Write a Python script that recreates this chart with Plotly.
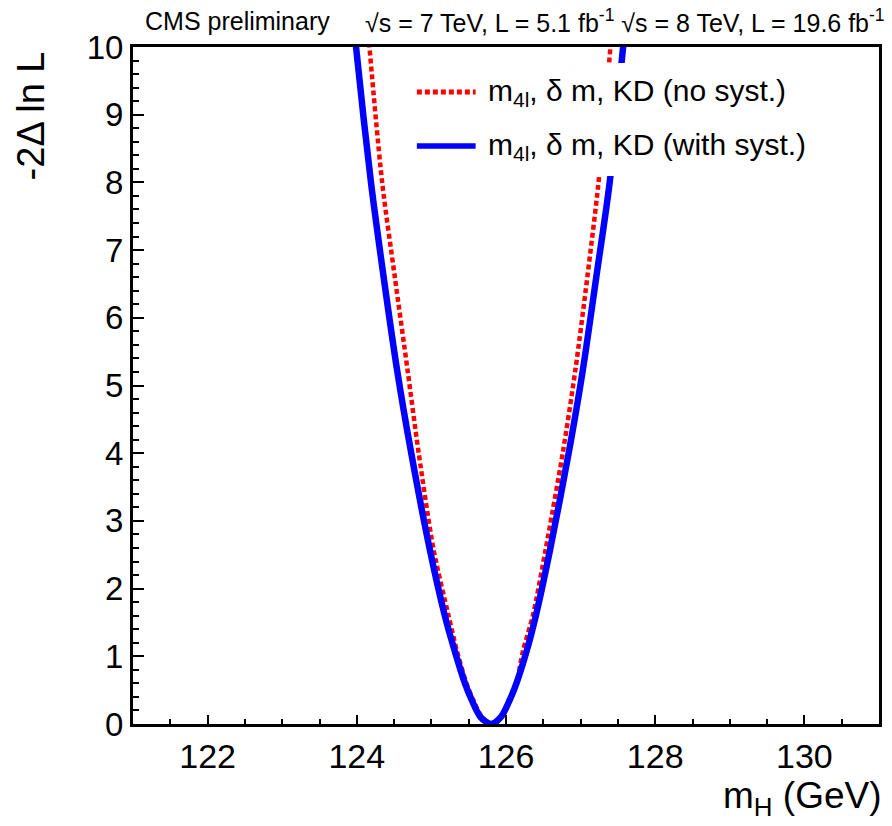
import plotly.graph_objects as go

# ---- data ----
# m4l, delta m, KD (no syst.)  -- red dotted
mass_nosyst = [124.15, 124.17, 124.34, 124.51, 124.68, 124.83, 125.03, 125.23, 125.34,
               125.47, 125.56, 125.68, 125.81, 125.94, 126.06, 126.14, 126.23, 126.36,
               126.53, 126.76, 126.93, 127.09, 127.24, 127.40, 127.42]
nll_nosyst = [10.3, 10.0, 8.0, 6.6, 5.23, 4.0, 2.57, 1.6, 1.09,
              0.6, 0.355, 0.1, 0.0, 0.1, 0.355, 0.6, 1.09, 1.6,
              2.57, 4.0, 5.23, 6.6, 8.0, 10.0, 10.3]

# m4l, delta m, KD (with syst.)  -- blue solid
mass_syst = [123.97, 123.99, 124.19, 124.36, 124.54, 124.73, 124.98, 125.18, 125.31,
             125.45, 125.54, 125.66, 125.80, 125.93, 126.05, 126.14, 126.28, 126.40,
             126.59, 126.84, 127.03, 127.21, 127.39, 127.57, 127.60]
nll_syst = [10.3, 10.0, 8.0, 6.6, 5.23, 4.0, 2.57, 1.6, 1.09,
            0.6, 0.355, 0.1, 0.0, 0.1, 0.355, 0.6, 1.09, 1.6,
            2.57, 4.0, 5.23, 6.6, 8.0, 10.0, 10.3]

series_names = ["m<sub>4l</sub>, δ m, KD (no syst.)",
                "m<sub>4l</sub>, δ m, KD (with syst.)"]
x_range = [121, 131]
y_range = [0, 10]
x_tickvals = [122, 124, 126, 128, 130]
y_tickvals = [0, 1, 2, 3, 4, 5, 6, 7, 8, 9, 10]

FONT = "Liberation Sans, Arial, Helvetica, sans-serif"
RED = "#ff0000"
BLUE = "#0000ff"

fig = go.Figure()
fig.add_trace(go.Scatter(x=mass_nosyst, y=nll_nosyst, mode="lines",
                         line=dict(color=RED, width=4.5, dash="5px,3px", shape="spline", smoothing=0.8),
                         name=series_names[0], showlegend=False))
fig.add_trace(go.Scatter(x=mass_syst, y=nll_syst, mode="lines",
                         line=dict(color=BLUE, width=6.5, shape="spline", smoothing=0.8),
                         name=series_names[1], showlegend=False))

# ---- manual legend (opaque white box like the original) ----
W, H = 892, 826
L_M, R_M, T_M, B_M = 133, 10, 47, 102
pw = W - L_M - R_M
ph = H - T_M - B_M


def px2x(px):
    return x_range[0] + (px - L_M) / pw * (x_range[1] - x_range[0])


def py2y(py):
    return y_range[1] - (py - T_M) / ph * (y_range[1] - y_range[0])


shapes = [
    dict(type="rect", xref="x", yref="y", x0=px2x(402), x1=px2x(852), y0=py2y(176), y1=py2y(63),
         fillcolor="white", line=dict(width=0), layer="above"),
    dict(type="line", xref="x", yref="y", x0=px2x(418), x1=px2x(477), y0=py2y(92), y1=py2y(92),
         line=dict(color=RED, width=5, dash="5px,3px"), layer="above"),
    dict(type="line", xref="x", yref="y", x0=px2x(418), x1=px2x(477), y0=py2y(146), y1=py2y(146),
         line=dict(color=BLUE, width=5.5), layer="above"),
]

annotations = [
    dict(text=series_names[0], xref="x", yref="y", x=px2x(487), y=py2y(92),
         xanchor="left", yanchor="middle", showarrow=False, font=dict(family=FONT, size=30, color="black")),
    dict(text=series_names[1], xref="x", yref="y", x=px2x(487), y=py2y(146),
         xanchor="left", yanchor="middle", showarrow=False, font=dict(family=FONT, size=30, color="black")),
    dict(text="CMS preliminary", xref="paper", yref="paper", x=(143 - L_M) / pw, y=(H - B_M - 21) / ph,
         xanchor="left", yanchor="middle", showarrow=False, font=dict(family=FONT, size=25, color="black")),
    dict(text="√s = 7 TeV, L = 5.1 fb<sup>-1</sup> √s = 8 TeV, L = 19.6 fb<sup>-1</sup>",
         xref="paper", yref="paper", x=(364 - L_M) / pw, y=(H - B_M - 21) / ph,
         xanchor="left", yanchor="middle", showarrow=False, font=dict(family=FONT, size=25, color="black")),
    dict(text="m<sub>H</sub> (GeV)", xref="paper", yref="paper", x=(887 - L_M) / pw, y=(H - B_M - 798) / ph,
         xanchor="right", yanchor="middle", showarrow=False, font=dict(family=FONT, size=37, color="black")),
    dict(text="-2Δ ln L", xref="paper", yref="paper", x=(31 - L_M) / pw, y=(H - B_M - 116) / ph,
         xanchor="center", yanchor="middle", textangle=-90, showarrow=False,
         font=dict(family=FONT, size=38, color="black")),
]

fig.update_layout(
    width=W, height=H,
    margin=dict(l=L_M, r=R_M, t=T_M, b=B_M),
    paper_bgcolor="white", plot_bgcolor="white",
    shapes=shapes, annotations=annotations,
    showlegend=False,
    font=dict(family=FONT, color="black"),
)
fig.update_xaxes(range=x_range, tickvals=x_tickvals, ticks="inside", ticklen=9, tickwidth=2,
                 tickcolor="black", showline=True, linecolor="black", linewidth=3, mirror=True,
                 showgrid=False, zeroline=False, tickfont=dict(family=FONT, size=34, color="black"),
                 minor=dict(dtick=0.5, tick0=121, ticks="inside", ticklen=5, tickwidth=2, tickcolor="black",
                            showgrid=False))
fig.update_yaxes(range=y_range, tickvals=y_tickvals, ticks="inside", ticklen=11, tickwidth=2,
                 tickcolor="black", showline=True, linecolor="black", linewidth=3, mirror=True,
                 showgrid=False, zeroline=False, tickfont=dict(family=FONT, size=33, color="black"),
                 minor=dict(dtick=0.2, tick0=0, ticks="inside", ticklen=6, tickwidth=2, tickcolor="black",
                            showgrid=False))

fig.write_html("out.html")
